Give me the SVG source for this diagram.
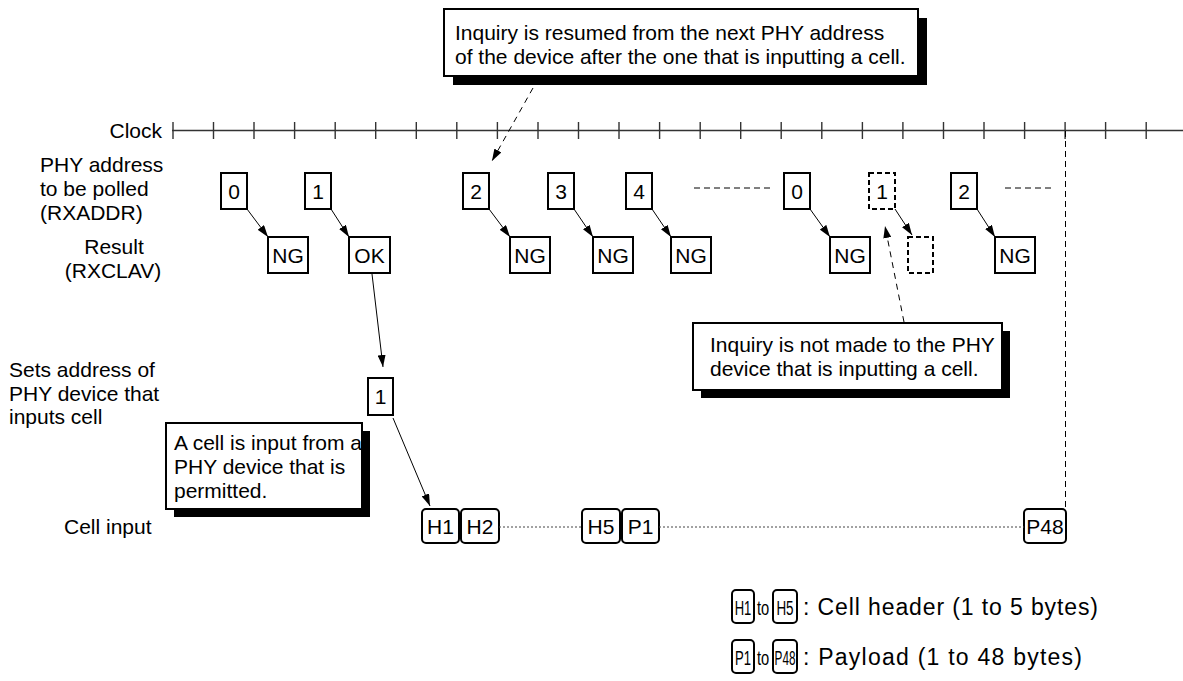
<svg xmlns="http://www.w3.org/2000/svg" width="1183" height="681" viewBox="0 0 1183 681">
<style>
.t{font-family:"Liberation Sans",Arial,Helvetica,sans-serif;font-size:21px;fill:#000}
.lg{font-size:23px}
.c{text-anchor:middle}
.e{text-anchor:end}
.box{fill:#fff;stroke:#000;stroke-width:2}
.dbox{fill:none;stroke:#000;stroke-width:2;stroke-dasharray:5 3}
.sh{fill:#000}
.conn{fill:none;stroke:#000;stroke-width:1;marker-end:url(#ah)}
.dconn{fill:none;stroke:#000;stroke-width:1;stroke-dasharray:6 5;marker-end:url(#ah)}
.dash{fill:none;stroke:#000;stroke-width:1;stroke-dasharray:6 4}
.dot{fill:none;stroke:#444;stroke-width:1;stroke-dasharray:2 2}
.clk{fill:none;stroke:#333;stroke-width:1.4}
</style>
<defs>
<marker id="ah" viewBox="0 0 12 8" refX="12" refY="4" markerWidth="12" markerHeight="8" markerUnits="userSpaceOnUse" orient="auto"><path d="M0,0 L12,4 L0,8 z" fill="#000"/></marker>
</defs>

<g id="clock">
<text class="t e" x="162" y="137.5">Clock</text>
<line class="clk" x1="172" y1="130.5" x2="1183" y2="130.5"/>
<path class="clk" d="M173,122V139M213.5,122V139M254,122V139M294.6,122V139M335.2,122V139M375.7,122V139M416.3,122V139M456.8,122V139M497.4,122V139M538,122V139M578.5,122V139M619,122V139M659.6,122V139M700.2,122V139M740.7,122V139M781.2,122V139M821.8,122V139M862.4,122V139M902.9,122V139M943.5,122V139M984,122V139M1024.6,122V139M1065.1,122V139M1105.6,122V139M1146.2,122V139"/>
</g>

<g id="labels">
<text class="t" x="40" y="171.5">PHY address</text>
<text class="t" x="40" y="195.5">to be polled</text>
<text class="t" x="40" y="219.5">(RXADDR)</text>
<text class="t c" x="114" y="254">Result</text>
<text class="t c" x="113" y="278">(RXCLAV)</text>
<text class="t" x="9" y="377">Sets address of</text>
<text class="t" x="9" y="401">PHY device that</text>
<text class="t" x="9" y="424">inputs cell</text>
<text class="t" x="64" y="533.5">Cell input</text>
</g>

<g id="callout-top">
<rect class="sh" x="453" y="18" width="474" height="67"/>
<rect class="box" x="444" y="9" width="474" height="67"/>
<text class="t" x="455" y="40">Inquiry is resumed from the next PHY address</text>
<text class="t" x="455" y="64">of the device after the one that is inputting a cell.</text>
</g>

<g id="callout-mid">
<rect class="sh" x="701" y="331" width="309" height="67"/>
<rect class="box" x="693" y="323" width="309" height="67"/>
<text class="t" x="710" y="352">Inquiry is not made to the PHY</text>
<text class="t" x="710" y="376">device that is inputting a cell.</text>
</g>

<g id="callout-left">
<rect class="sh" x="174" y="431" width="196" height="86"/>
<rect class="box" x="166" y="423" width="196" height="86"/>
<text class="t" x="174" y="449.5">A cell is input from a</text>
<text class="t" x="174" y="473.5">PHY device that is</text>
<text class="t" x="174" y="497.5">permitted.</text>
</g>

<g id="addr-0a"><rect class="box" x="221" y="173" width="26" height="36"/><text class="t c" x="234" y="198.5">0</text></g>
<g id="addr-1a"><rect class="box" x="305" y="173" width="26" height="36"/><text class="t c" x="318" y="198.5">1</text></g>
<g id="addr-2a"><rect class="box" x="463" y="173" width="26" height="36"/><text class="t c" x="476" y="198.5">2</text></g>
<g id="addr-3"><rect class="box" x="548" y="173" width="26" height="36"/><text class="t c" x="561" y="198.5">3</text></g>
<g id="addr-4"><rect class="box" x="626" y="173" width="26" height="36"/><text class="t c" x="639" y="198.5">4</text></g>
<g id="addr-0b"><rect class="box" x="784" y="173" width="26" height="36"/><text class="t c" x="797" y="198.5">0</text></g>
<g id="addr-1b"><rect class="dbox" x="869" y="173" width="26" height="36"/><text class="t c" x="882" y="198.5">1</text></g>
<g id="addr-2b"><rect class="box" x="951" y="173" width="26" height="36"/><text class="t c" x="964" y="198.5">2</text></g>

<g id="res-1"><rect class="box" x="268" y="237" width="40" height="36"/><text class="t c" x="288" y="262.5">NG</text></g>
<g id="res-2"><rect class="box" x="349" y="237" width="41" height="36"/><text class="t c" x="369.5" y="262.5">OK</text></g>
<g id="res-3"><rect class="box" x="510" y="237" width="40" height="36"/><text class="t c" x="530" y="262.5">NG</text></g>
<g id="res-4"><rect class="box" x="593" y="237" width="40" height="36"/><text class="t c" x="613" y="262.5">NG</text></g>
<g id="res-5"><rect class="box" x="671" y="237" width="40" height="36"/><text class="t c" x="691" y="262.5">NG</text></g>
<g id="res-6"><rect class="box" x="830" y="237" width="40" height="36"/><text class="t c" x="850" y="262.5">NG</text></g>
<g id="res-7"><rect class="dbox" x="908" y="237" width="25" height="36"/></g>
<g id="res-8"><rect class="box" x="995" y="237" width="40" height="36"/><text class="t c" x="1015" y="262.5">NG</text></g>

<g id="sel-1"><rect class="box" x="368" y="378" width="25" height="37"/><text class="t c" x="380.5" y="404">1</text></g>

<g id="cell-H1"><rect class="box" x="422" y="509" width="37" height="34" rx="4"/><text class="t c" x="440.5" y="533.5">H1</text></g>
<g id="cell-H2"><rect class="box" x="461" y="509" width="38" height="34" rx="4"/><text class="t c" x="480" y="533.5">H2</text></g>
<g id="cell-H5"><rect class="box" x="582" y="509" width="38" height="34" rx="4"/><text class="t c" x="601" y="533.5">H5</text></g>
<g id="cell-P1"><rect class="box" x="622" y="509" width="37" height="34" rx="4"/><text class="t c" x="640.5" y="533.5">P1</text></g>
<g id="cell-P48"><rect class="box" x="1024" y="509" width="42" height="34" rx="4"/><text class="t c" x="1045" y="533.5">P48</text></g>

<g id="legend">
<rect class="box" x="732" y="590" width="22" height="33" rx="4"/>
<text class="t c" transform="translate(743,614.5) scale(0.62,1)">H1</text>
<text class="t" transform="translate(757,614.5) scale(0.7,1)">to</text>
<rect class="box" x="773" y="590" width="24" height="33" rx="4"/>
<text class="t c" transform="translate(785,614.5) scale(0.64,1)">H5</text>
<text class="t lg" x="803" y="614.5" textLength="295" lengthAdjust="spacing">: Cell header (1 to 5 bytes)</text>
<rect class="box" x="732" y="640" width="22" height="33" rx="4"/>
<text class="t c" transform="translate(743,664.5) scale(0.62,1)">P1</text>
<text class="t" transform="translate(757,664.5) scale(0.7,1)">to</text>
<rect class="box" x="773" y="640" width="24" height="33" rx="4"/>
<text class="t c" transform="translate(785,664.5) scale(0.56,1)">P48</text>
<text class="t lg" x="803" y="664.5" textLength="279" lengthAdjust="spacing">: Payload (1 to 48 bytes)</text>
</g>

<g id="connectors">
<line class="conn" x1="247" y1="209" x2="268" y2="237"/>
<line class="conn" x1="331" y1="209" x2="349" y2="237"/>
<line class="conn" x1="489" y1="209" x2="510" y2="237"/>
<line class="conn" x1="574" y1="209" x2="593" y2="237"/>
<line class="conn" x1="652" y1="209" x2="671" y2="237"/>
<line class="conn" x1="810" y1="209" x2="830" y2="237"/>
<line class="conn" x1="895" y1="209" x2="912" y2="235"/>
<line class="conn" x1="977" y1="209" x2="995" y2="237"/>
<line class="conn" x1="372" y1="274" x2="383" y2="367"/>
<line class="conn" x1="393" y1="418" x2="430" y2="506"/>
<line class="dconn" x1="533" y1="88" x2="492" y2="161"/>
<line class="dconn" x1="904" y1="322" x2="885" y2="226"/>
<line class="dash" x1="694" y1="188" x2="773" y2="188"/>
<line class="dash" x1="1005" y1="188" x2="1054" y2="188"/>
<line class="dash" x1="1065.5" y1="131" x2="1065.5" y2="509"/>
<line class="dot" x1="499" y1="527" x2="582" y2="527"/>
<line class="dot" x1="659" y1="527" x2="1024" y2="527"/>
</g>
</svg>
